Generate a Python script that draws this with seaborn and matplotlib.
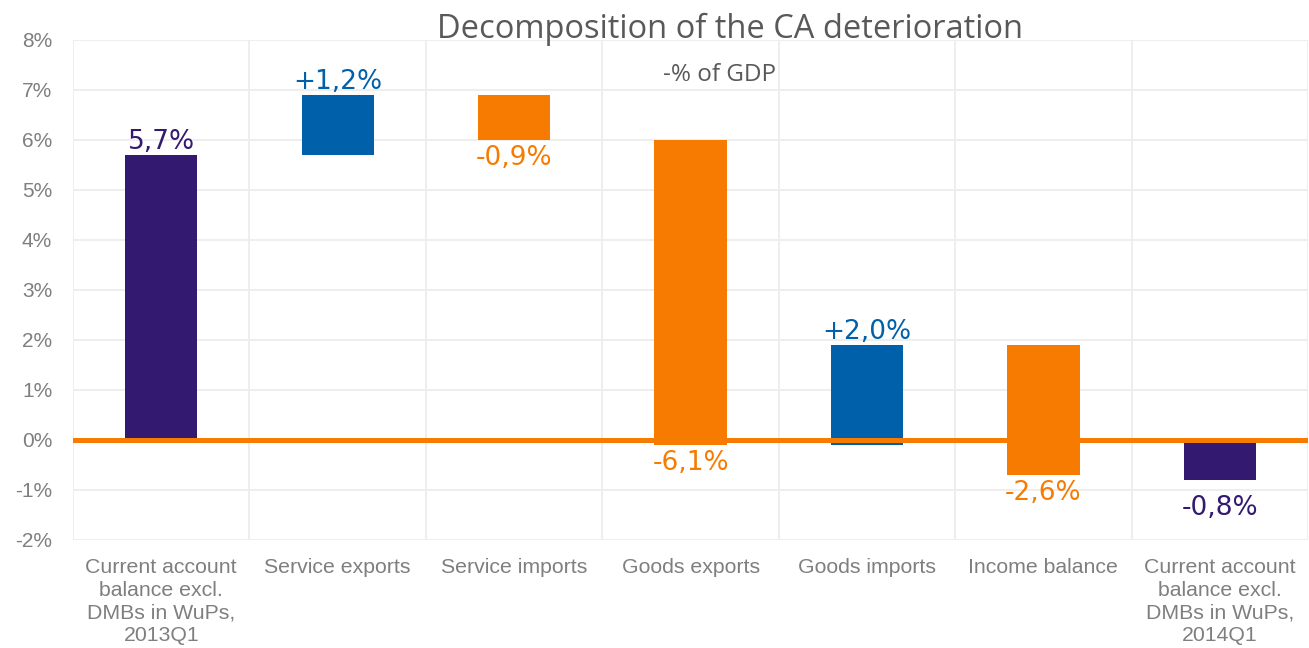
import matplotlib
matplotlib.use("Agg")
import matplotlib.pyplot as plt
import seaborn as sns
import numpy as np
import pandas as pd

# Waterfall components of the current account change (% of GDP)
categories = [
    "Current account\nbalance excl.\nDMBs in WuPs,\n2013Q1",
    "Service exports",
    "Service imports",
    "Goods exports",
    "Goods imports",
    "Income balance",
    "Current account\nbalance excl.\nDMBs in WuPs,\n2014Q1",
]
values = [5.7, 1.2, -0.9, -6.1, 2.0, -2.6, -0.8]
kinds = ["total", "delta", "delta", "delta", "delta", "delta", "total"]
y_ticks = list(range(-2, 9))

PURPLE = "#331a70"
BLUE = "#0060aa"
ORANGE = "#f77b00"
GRID = "#ededed"
TEXT_GREY = "#7f7f7f"

# running base for each bar
bottoms = []
running = 0.0
for v, k in zip(values, kinds):
    if k == "total":
        bottoms.append(0.0)
        running = v
    else:
        bottoms.append(running)
        running += v

colors = []
for v, k in zip(values, kinds):
    if k == "total":
        colors.append(PURPLE)
    else:
        colors.append(BLUE if v > 0 else ORANGE)

df = pd.DataFrame({"category": categories, "value": values})

sns.set_style("white")
fig = plt.figure(figsize=(13.09, 6.48), dpi=100)
ax = fig.add_axes([0.0558, 0.1667, 0.9435, 0.7716])

sns.barplot(data=df, x="category", y="value", hue="category",
            palette=dict(zip(categories, colors)), order=categories,
            hue_order=categories, legend=False, width=0.41,
            saturation=1, linewidth=0, ax=ax, zorder=2)

for patch, b in zip(ax.patches, bottoms):
    patch.set_y(b)
    patch.set_linewidth(0)

ax.set_ylim(-2, 8)
ax.set_xlim(-0.5, len(categories) - 0.5)
ax.set_yticks(y_ticks)
ax.set_yticklabels([f"{t}%" for t in y_ticks], fontsize=15,
                   color=TEXT_GREY, family="Liberation Sans")
ax.tick_params(axis="x", labelsize=15.3, colors=TEXT_GREY, length=0, pad=13)
ax.tick_params(axis="y", length=0, pad=15)
for lbl in ax.get_xticklabels():
    lbl.set_family("Liberation Sans")
    lbl.set_linespacing(1.25)
    lbl.set_verticalalignment("top")
ax.set_xlabel("")
ax.set_ylabel("")

# grid: horizontal at each percent, vertical between categories
for t in y_ticks:
    ax.axhline(t, color=GRID, lw=1.3, zorder=0)
for xb in np.arange(-0.5, len(categories) - 0.4, 1.0):
    ax.axvline(xb, color=GRID, lw=1.3, zorder=0)
for s in ax.spines.values():
    s.set_visible(False)

ax.axhline(0, color=ORANGE, lw=3.6, zorder=3)

# value labels: above rising bars, below falling ones
for i, (v, k, b, c) in enumerate(zip(values, kinds, bottoms, colors)):
    txt = f"{v:.1f}%" if k == "total" else f"{v:+.1f}%"
    txt = txt.replace(".", ",")
    top = b + v
    if v > 0:
        ax.text(i, top, txt, ha="center", va="bottom", color=c,
                fontsize=19, family="DejaVu Sans", zorder=4)
    else:
        gap = 0.3 if k == "total" else 0.1
        ax.text(i, top - gap, txt, ha="center", va="top", color=c,
                fontsize=19, family="DejaVu Sans", zorder=4)

fig.text(0.558, 0.954, "Decomposition of the CA deterioration", ha="center",
         va="center", fontsize=23.5, color="#595959", family="Open Sans")
fig.text(0.550, 0.884, "-% of GDP", ha="center", va="center",
         fontsize=17.5, color="#595959", family="Open Sans")

fig.savefig("out.png", dpi=100)
